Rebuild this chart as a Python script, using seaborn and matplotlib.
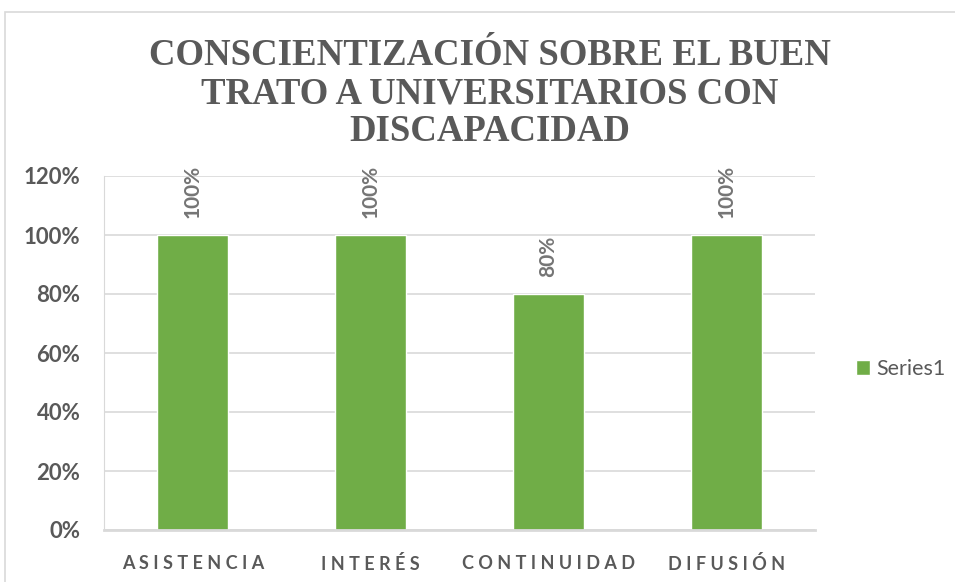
import pandas as pd
import seaborn as sns
import matplotlib.pyplot as plt
from matplotlib.patches import Rectangle

categories = ["ASISTENCIA", "INTERÉS", "CONTINUIDAD", "DIFUSIÓN"]
values = [1.00, 1.00, 0.80, 1.00]
series_name = "Series1"
yticks = [0, 0.2, 0.4, 0.6, 0.8, 1.0, 1.2]
title = "CONSCIENTIZACIÓN SOBRE EL BUEN\nTRATO A UNIVERSITARIOS CON\nDISCAPACIDAD"

green = "#70AD47"
grey = "#595959"
grid = "#D9D9D9"

sns.set_style("white")
plt.rcParams['font.family'] = ['Lato', 'DejaVu Sans']

df = pd.DataFrame({"cat": categories, "val": values, "serie": series_name})


def spaced(s):
    return " ".join(s)


fig = plt.figure(figsize=(9.55, 5.82), dpi=100)
fig.patches.append(Rectangle((5 / 955, -0.1), 1.2, (570 / 582) + 0.1,
                             transform=fig.transFigure, fill=False,
                             edgecolor=grid, linewidth=1.2))
ax = fig.add_axes([104 / 955, 52 / 582, 711 / 955, 354 / 582])

sns.barplot(data=df, x="cat", y="val", hue="serie", palette=[green],
            width=0.4, ax=ax, saturation=1)

ax.set_ylim(0, 1.2)
ax.set_xlim(-0.5, 3.5)
ax.set_yticks(yticks)
ax.set_yticklabels([f"{int(round(t * 100))}%" for t in yticks],
                   fontsize=16, fontweight='bold', color=grey)
ax.set_xticks(range(len(categories)))
ax.set_xticklabels([spaced(c) for c in categories], fontsize=13,
                   fontweight='bold', color=grey)
ax.tick_params(axis='both', length=0)
ax.tick_params(axis='y', pad=17)
ax.tick_params(axis='x', pad=18)
ax.set_xlabel("")
ax.set_ylabel("")
ax.yaxis.grid(True, color=grid, linewidth=1.2)
ax.set_axisbelow(True)
for side in ["top", "right"]:
    ax.spines[side].set_visible(False)
ax.spines["left"].set_color(grid)
ax.spines["bottom"].set_color(grid)
ax.spines["bottom"].set_linewidth(2)

for i, v in enumerate(values):
    ax.annotate(f"{v:.0%}", (i, v), xytext=(0, 12), textcoords="offset points",
                rotation=90, ha="center", va="bottom", fontsize=15,
                fontweight="bold", color="#757575")

leg = ax.legend(loc="center left", bbox_to_anchor=(1.03, 0.455), frameon=False,
                fontsize=15.5, handlelength=0.65, handleheight=0.65,
                handletextpad=0.3)
for t in leg.get_texts():
    t.set_color(grey)

fig.text(0.513, 0.935, title, ha="center", va="top", fontsize=26.5,
         fontweight="bold", color=grey, family=["Liberation Serif"],
         linespacing=1.12)

fig.savefig("out.png", dpi=100)
